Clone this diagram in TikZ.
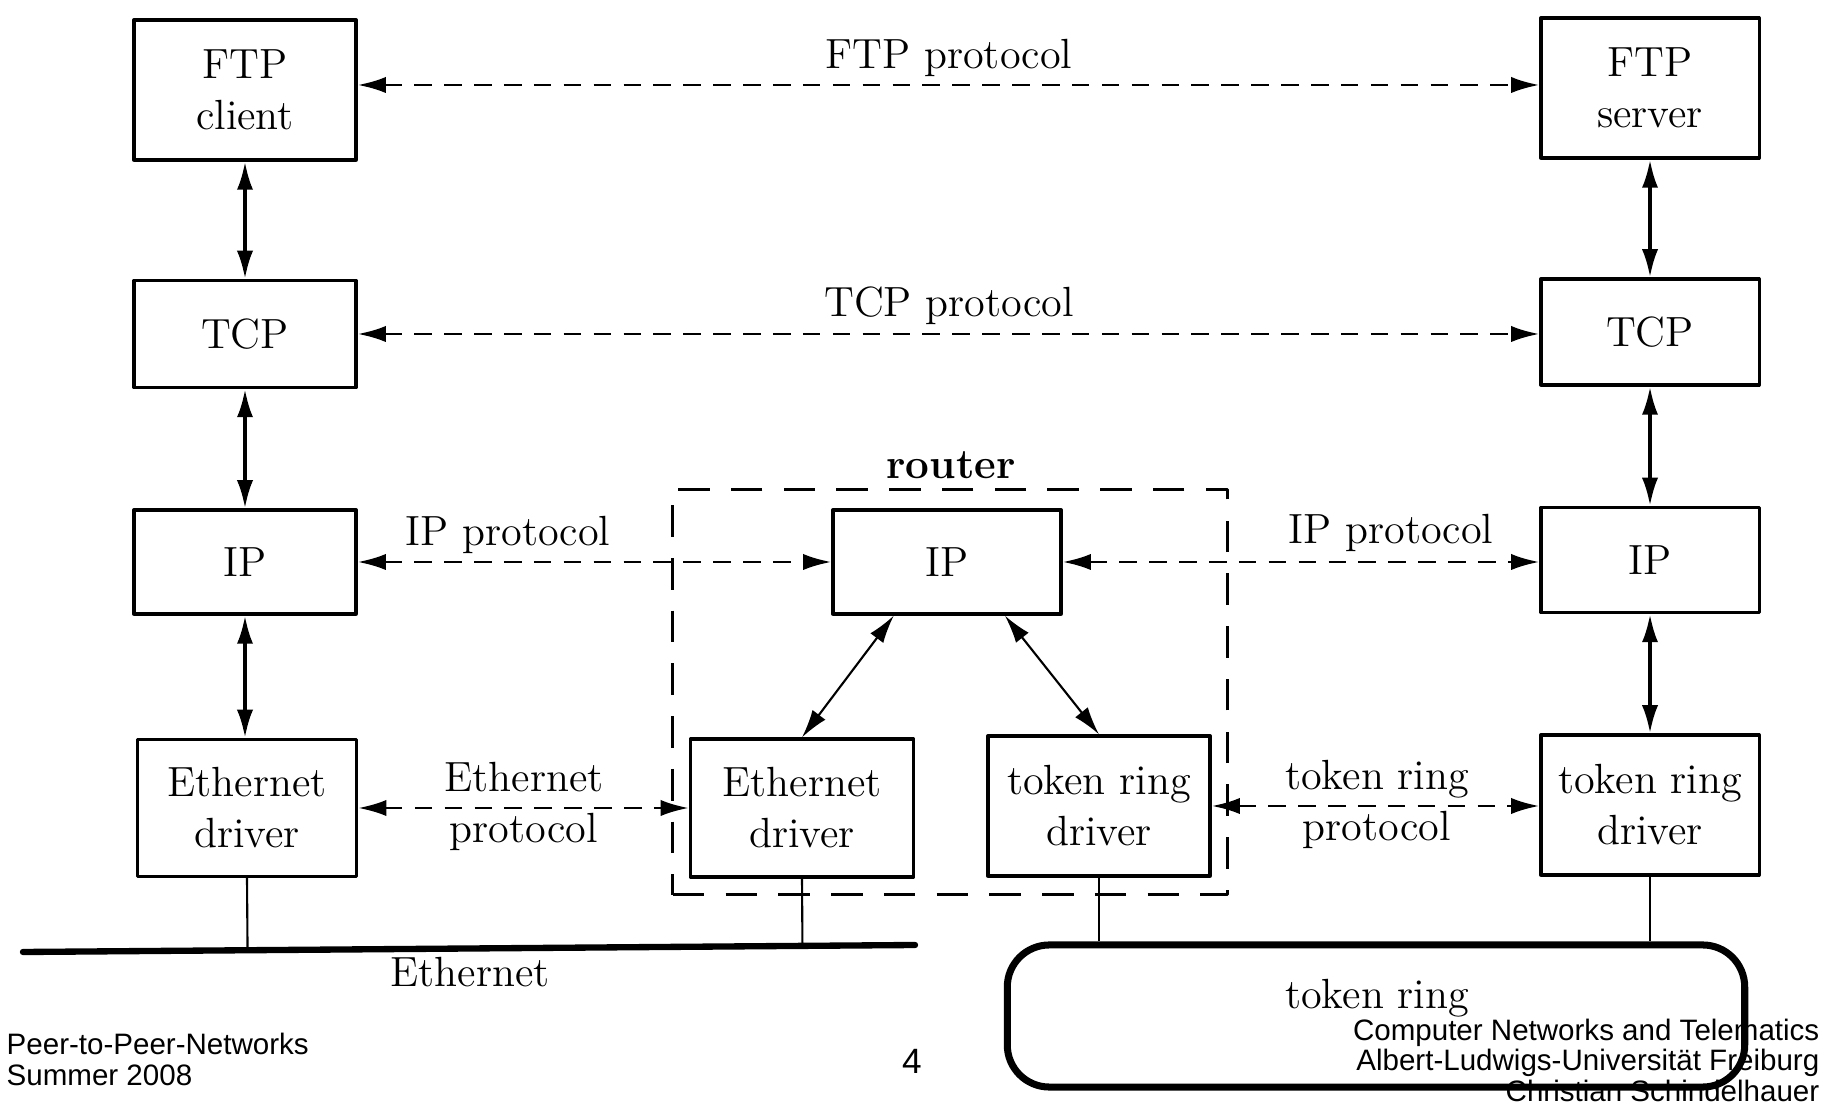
\documentclass[tikz,border=0pt]{standalone}
\usepackage{fontspec}
\newfontfamily\footfont{Liberation Sans}
\usetikzlibrary{arrows.meta,calc}
\begin{document}
\begin{tikzpicture}[x=0.01cm, y=-0.01cm, >={Latex[length=8pt,width=4.6pt]}, font=\fontsize{12}{14.5}\selectfont, line join=round,
	layer/.style={draw, line width=0.9pt, minimum width=2.22cm, minimum height=#1, align=center, inner sep=2pt},
	peer/.style={<->, line width=0.8pt, dash pattern=on 5pt off 3.5pt},
	stack/.style={<->, line width=1pt},
	footer/.style={font=\footfont\fontsize{8.4}{10}\selectfont, inner sep=0pt}]
	\useasboundingbox (0,0) rectangle (1833,1104);
	% Fusszeile
	\node[footer, anchor=west] (ft1) at (6,1044) {Peer-to-Peer-Networks};
	\node[footer, anchor=west] (ft2) at (6,1075) {Summer 2008};
	\node[footer, font=\footfont\fontsize{10}{12}\selectfont] (pg) at (912,1061) {4};
	\node[footer, anchor=east] (ft3) at (1820,1033) {Computer Networks and Telematics};
	\node[footer, anchor=east] (ft4) at (1820,1063) {Albert-Ludwigs-Universit\"at Freiburg};
	\node[footer, anchor=east] (ft5) at (1820,1091) {Christian Schindelhauer};
	% Client
	\node[layer=1.4cm] (ftpC) at (245,90) {FTP\\client};
	\node[layer=1.07cm] (tcpC) at (245,334) {TCP};
	\node[layer=1.04cm] (ipC) at (245,562) {IP};
	\node[layer=1.37cm, minimum width=2.19cm] (ethC) at (247,808) {Ethernet\\driver};
	% Server
	\node[layer=1.4cm, minimum width=2.18cm] (ftpS) at (1650,88) {FTP\\server};
	\node[layer=1.06cm, minimum width=2.18cm] (tcpS) at (1650,332) {TCP};
	\node[layer=1.05cm, minimum width=2.18cm] (ipS) at (1650,560) {IP};
	\node[layer=1.4cm, minimum width=2.18cm] (trS) at (1650,805) {token ring\\driver};
	% Router
	\node[draw, line width=0.8pt, dash pattern=on 9pt off 6pt, minimum width=5.54cm, minimum height=4.05cm] (rt) at (950,692) {};
	\node[font=\fontsize{12}{14}\selectfont\bfseries] (rtT) at (951,465) {router};
	\node[layer=1.04cm, minimum width=2.28cm] (ipR) at (947,562) {IP};
	\node[layer=1.38cm, minimum width=2.23cm] (ethR) at (802,808) {Ethernet\\driver};
	\node[layer=1.4cm] (trR) at (1099,806) {token ring\\driver};
	% Protokolle
	\draw[peer] ($(ftpC.east)+(0,-5)$) -- ($(ftpC.east -| ftpS.west)+(0,-5)$);
	\node (ftpP) at (949,58) {FTP protocol};
	\draw[peer] (tcpC.east) -- (tcpC.east -| tcpS.west);
	\node (tcpP) at (949,306) {TCP protocol};
	\draw[peer] (ipC) -- (ipR);
	\node (ipP1) at (508,535) {IP protocol};
	\draw[peer] (ipR.east) -- (ipR.east -| ipS.west);
	\node (ipP2) at (1391,533) {IP protocol};
	\draw[peer] (ethC.east) -- (ethC.east -| ethR.west);
	\node[align=center] (ethP) at (524,806) {Ethernet\\protocol};
	\draw[peer] (trR.east) -- (trR.east -| trS.west);
	\node[align=center] (trP) at (1377,804) {token ring\\protocol};
	% Schichten
	\draw[stack] (ftpC) -- (tcpC);
	\draw[stack] (tcpC) -- (ipC);
	\draw[stack] (ipC.south) -- (ipC.south |- ethC.north);
	\draw[stack] (ftpS) -- (tcpS);
	\draw[stack] (tcpS) -- (ipS);
	\draw[stack] (ipS) -- (trS);
	\draw[<->, line width=0.6pt] ($(ipR.south west)!.27!(ipR.south east)$) -- (ethR.north);
	\draw[<->, line width=0.6pt] ($(ipR.south west)!.75!(ipR.south east)$) -- (trR.north);
	% Ethernet
	\coordinate (busL) at (23,952);
	\coordinate (busR) at (915,945);
	\draw[line width=1.8pt, line cap=round] (busL) -- (busR);
	\draw[line width=0.6pt] (ethC.south) -- ($(busL)!(ethC.south)!(busR)$);
	\draw[line width=0.6pt] (ethR.south) -- ($(busL)!(ethR.south)!(busR)$);
	\node (ethN) at (470,972) {Ethernet};
	% Token Ring
	\node[draw, line width=2pt, rounded corners=0.42cm, minimum width=7.37cm, minimum height=1.42cm] (ring) at (1376,1016) {};
	\node[inner sep=0pt] (ringT) at (1377,998) {token ring};
	\draw[line width=0.6pt] (trR.south) -- (trR.south |- ring.north);
	\draw[line width=0.6pt] (trS.south) -- (trS.south |- ring.north);
\end{tikzpicture}
\end{document}
